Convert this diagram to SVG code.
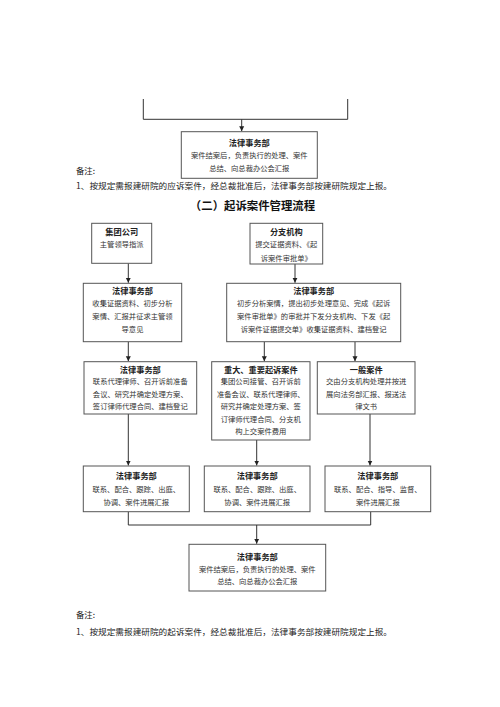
<svg xmlns="http://www.w3.org/2000/svg" width="500" height="707" viewBox="0 0 500 707">
<style>
.box{fill:#fff;stroke:#555;stroke-width:1}
.t{font-family:"Noto Sans CJK SC","Noto Sans",sans-serif;font-weight:bold;font-size:8.2px;fill:#222;text-anchor:middle;dominant-baseline:central}
.b{font-family:"Noto Sans CJK SC","Noto Sans",sans-serif;font-size:7.3px;fill:#333;text-anchor:middle;dominant-baseline:central}
.n{font-family:"Noto Sans CJK SC","Noto Sans",sans-serif;font-size:8.4px;fill:#222}
.h{font-family:"Noto Sans CJK SC","Noto Sans",sans-serif;font-weight:bold;font-size:11.4px;fill:#111;text-anchor:middle;dominant-baseline:central}
.c{fill:none;stroke:#333;stroke-width:1}
</style>
<defs>
<marker id="a" markerWidth="6" markerHeight="6" refX="5" refY="3" orient="auto" markerUnits="userSpaceOnUse">
<path d="M0,0.5 L5,3 L0,5.5 Z" fill="#222"/>
</marker>
</defs>
<rect width="500" height="707" fill="#fff"/>

<g id="connectors">
<path class="c" d="M143.3,99 V119.3 H347.7 V99"/>
<path class="c" d="M241.7,119.3 V131.2" marker-end="url(#a)"/>
<path class="c" d="M128.3,263.3 V282.8" marker-end="url(#a)"/>
<path class="c" d="M295,264 V282.8" marker-end="url(#a)"/>
<path class="c" d="M128.3,341.7 V361.2" marker-end="url(#a)"/>
<path class="c" d="M264.3,341.7 V361.2" marker-end="url(#a)"/>
<path class="c" d="M355,341.7 V361.2" marker-end="url(#a)"/>
<path class="c" d="M128.3,414 V465.5" marker-end="url(#a)"/>
<path class="c" d="M256.7,440 V465.5" marker-end="url(#a)"/>
<path class="c" d="M370,414 V465.5" marker-end="url(#a)"/>
<path class="c" d="M128.3,511.7 V525 H370.7 V511.7"/>
<path class="c" d="M256.7,525 V543.8" marker-end="url(#a)"/>
</g>

<g id="node-top-legal">
<rect class="box" x="181.3" y="131.7" width="136" height="46.6"/>
<text class="t" x="249.3" y="142">法律事务部</text>
<text class="b" x="249.3" y="155.3">案件结案后，负责执行的处理、案件</text>
<text class="b" x="249.3" y="168">总结、向总裁办公会汇报</text>
</g>

<g id="note-1">
<text class="n" x="76" y="173.5">备注:</text>
<text class="n" x="76" y="189" textLength="316" lengthAdjust="spacingAndGlyphs">1、按规定需报建研院的应诉案件，经总裁批准后，法律事务部按建研院规定上报。</text>
</g>

<text class="h" x="252.5" y="205">（二）起诉案件管理流程</text>

<g id="node-group">
<rect class="box" x="91.7" y="223.3" width="60" height="40"/>
<text class="t" x="121.7" y="231">集团公司</text>
<text class="b" x="121.7" y="244.3">主管领导指派</text>
</g>

<g id="node-branch">
<rect class="box" x="250" y="223.3" width="72.7" height="40.7"/>
<text class="t" x="286.3" y="231">分支机构</text>
<text class="b" x="286.3" y="244.3">提交证据资料、《起</text>
<text class="b" x="286.3" y="257.7">诉案件审批单》</text>
</g>

<g id="node-legal-left1">
<rect class="box" x="83.3" y="283.3" width="98.4" height="58.4"/>
<text class="t" x="132.5" y="290">法律事务部</text>
<text class="b" x="132.5" y="303.3">收集证据资料、初步分析</text>
<text class="b" x="132.5" y="316">案情、汇报并征求主管领</text>
<text class="b" x="132.5" y="329.3">导意见</text>
</g>

<g id="node-legal-right1">
<rect class="box" x="226.7" y="283.3" width="174" height="58.4"/>
<text class="t" x="313.7" y="290">法律事务部</text>
<text class="b" x="313.7" y="303.3">初步分析案情，提出初步处理意见、完成《起诉</text>
<text class="b" x="313.7" y="316">案件审批单》的审批并下发分支机构、下发《起</text>
<text class="b" x="313.7" y="329.3">诉案件证据提交单》收集证据资料、建档登记</text>
</g>

<g id="node-legal-left2">
<rect class="box" x="84" y="361.7" width="112.7" height="52.3"/>
<text class="t" x="140.3" y="369.3">法律事务部</text>
<text class="b" x="140.3" y="381">联系代理律师、召开诉前准备</text>
<text class="b" x="140.3" y="393.5">会议、研究并确定处理方案、</text>
<text class="b" x="140.3" y="406">签订律师代理合同、建档登记</text>
</g>

<g id="node-major">
<rect class="box" x="211.7" y="361.7" width="98.3" height="78.3"/>
<text class="t" x="260.8" y="369.3">重大、重要起诉案件</text>
<text class="b" x="260.8" y="381">集团公司接管、召开诉前</text>
<text class="b" x="260.8" y="393.5">准备会议、联系代理律师、</text>
<text class="b" x="260.8" y="406">研究并确定处理方案、签</text>
<text class="b" x="260.8" y="418.7">订律师代理合同、分支机</text>
<text class="b" x="260.8" y="431">构上交案件费用</text>
</g>

<g id="node-general">
<rect class="box" x="317.3" y="361.7" width="97.7" height="52.3"/>
<text class="t" x="366.2" y="369.3">一般案件</text>
<text class="b" x="366.2" y="381">交由分支机构处理并按进</text>
<text class="b" x="366.2" y="393.5">展向法务部汇报、报送法</text>
<text class="b" x="366.2" y="406">律文书</text>
</g>

<g id="node-legal-a">
<rect class="box" x="83.3" y="466" width="106" height="45.7"/>
<text class="t" x="136.3" y="475">法律事务部</text>
<text class="b" x="136.3" y="489.3">联系、配合、跟踪、出庭、</text>
<text class="b" x="136.3" y="501.7">协调、案件进展汇报</text>
</g>

<g id="node-legal-b">
<rect class="box" x="204.3" y="466" width="105.7" height="45.7"/>
<text class="t" x="257.2" y="475">法律事务部</text>
<text class="b" x="257.2" y="489.3">联系、配合、跟踪、出庭、</text>
<text class="b" x="257.2" y="501.7">协调、案件进展汇报</text>
</g>

<g id="node-legal-c">
<rect class="box" x="325" y="466" width="105.7" height="45.7"/>
<text class="t" x="377.8" y="475">法律事务部</text>
<text class="b" x="377.8" y="489.3">联系、配合、指导、监督、</text>
<text class="b" x="377.8" y="501.7">案件进展汇报</text>
</g>

<g id="node-bottom-legal">
<rect class="box" x="189" y="544.3" width="136.7" height="46.7"/>
<text class="t" x="257.3" y="555.7">法律事务部</text>
<text class="b" x="257.3" y="568.5">案件结案后，负责执行的处理、案件</text>
<text class="b" x="257.3" y="581.3">总结、向总裁办公会汇报</text>
</g>

<g id="note-2">
<text class="n" x="76" y="618">备注:</text>
<text class="n" x="76" y="634.5" textLength="316" lengthAdjust="spacingAndGlyphs">1、按规定需报建研院的起诉案件，经总裁批准后，法律事务部按建研院规定上报。</text>
</g>
</svg>
